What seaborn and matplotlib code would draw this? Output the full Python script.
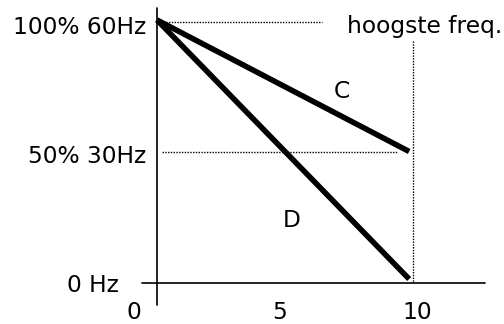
import matplotlib
matplotlib.use("Agg")
import matplotlib.pyplot as plt
import seaborn as sns
import pandas as pd

# ---- data ----
time_x = [0, 9.85]
curve_c = [100, 50]
curve_d = [100, 1.5]
series_names = ["C", "D"]

y_tick_values = [100, 50, 0]
y_tick_labels = ["100% 60Hz", "50% 30Hz", "0 Hz"]
x_tick_values = [0, 5, 10]
x_tick_labels = ["0", "5", "10"]
top_label = "hoogste freq."

sns.set_theme(style="white")
plt.rcParams["font.family"] = ["DejaVu Sans"]

W, H = 504, 324
fig = plt.figure(figsize=(W / 100, H / 100), dpi=100)
ax = fig.add_axes([0, 0, 1, 1])
ax.set_axis_off()

# pixel -> data mapping
px_per_x = 25.6
px_per_y = 2.63
x0_px, y0_px = 157, 283
ax.set_xlim(-x0_px / px_per_x, (W - x0_px) / px_per_x)
ax.set_ylim(-(H - y0_px) / px_per_y, y0_px / px_per_y)

df = pd.DataFrame({
    "t": time_x * 2,
    "f": curve_c + curve_d,
    "s": [series_names[0]] * 2 + [series_names[1]] * 2,
})
sns.lineplot(data=df, x="t", y="f", hue="s", palette=["black", "black"],
             linewidth=4.0, legend=False, ax=ax, solid_capstyle="butt")

# axes lines
ax.plot([0, 0], [104.5, -8.4], color="black", lw=1.2)
ax.plot([-0.59, 12.8], [0, 0], color="black", lw=1.2)

# dotted guides
dot = (0, (1, 1))
ax.plot([0.23, 6.45], [99.4, 99.4], color="black", lw=1.0, linestyle=dot)
ax.plot([0.2, 9.4], [50, 50], color="black", lw=1.0, linestyle=dot)
ax.plot([10, 10], [92, 0], color="black", lw=1.0, linestyle=dot)

fs = 16.8
# y tick labels
y_label_pos = [(-0.43, 94.7), (-0.43, 45.6), (-1.48, -3.4)]
for (xp, yp), lab in zip(y_label_pos, y_tick_labels):
    ax.text(xp, yp, lab, ha="right", va="baseline", fontsize=fs, color="black")

# x tick labels
x_label_pos = [-0.92, 4.8, 10.16]
for xp, lab in zip(x_label_pos, x_tick_labels):
    ax.text(xp, -13.6, lab, ha="center", va="baseline", fontsize=fs, color="black")

ax.text(7.42, 95.0, top_label, ha="left", va="baseline", fontsize=fs, color="black")
ax.text(7.23, 70.3, series_names[0], ha="center", va="baseline", fontsize=fs, color="black")
ax.text(5.27, 21.3, series_names[1], ha="center", va="baseline", fontsize=fs, color="black")

fig.savefig("out.png", dpi=100, facecolor="white")
